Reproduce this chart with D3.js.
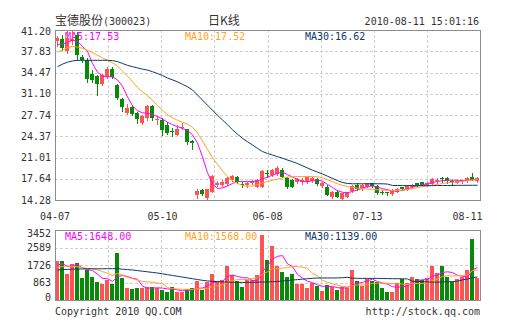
<!DOCTYPE html>
<html><head><meta charset="utf-8">
<script src="https://cdn.jsdelivr.net/npm/d3@7"></script>
<style>
html,body{margin:0;padding:0;background:#fff;}
svg{display:block;}
text{font-family:"DejaVu Sans Mono",monospace;font-size:10px;fill:#333;}
.cjk{font-family:"Noto Sans CJK SC",sans-serif;font-size:12px;}
</style></head><body>
<svg id="c" width="505" height="330"></svg>
<script>
const stockName = "宝德股份", stockCode = "(300023)", chartTitle = "日K线", timestamp = "2010-08-11 15:01:16";
const copyright = "Copyright 2010 QQ.COM", siteUrl = "http://stock.qq.com";

const open = [39.45,39.8,37.8,39.5,40.4,37.0,36.4,34.3,33.9,32.65,33.8,35.0,32.5,30.2,28.0,29.0,28.0,26.5,27.2,29.2,
26.95,27.0,26.2,25.15,24.6,25.7,25.5,23.7,15.1,15.9,14.55,15.6,16.7,16.7,16.8,17.45,17.9,16.8,16.65,17.0,
16.4,16.4,18.6,18.25,18.4,19.1,17.7,17.4,17.1,17.2,17.2,17.3,17.55,16.55,16.4,14.75,15.6,14.45,14.8,15.75,
16.66,16.0,16.4,16.9,16.5,15.55,15.5,15.2,15.6,16.3,15.9,16.3,16.9,17.1,16.6,16.8,17.4,17.7,17.8,17.3,
17.0,17.3,17.3,17.9,17.3];
const high = [40.3,40.4,41.0,41.2,40.9,37.2,36.7,34.9,34.1,34.3,35.4,35.4,32.6,30.4,29.5,29.3,28.2,27.8,29.3,29.4,
27.6,27.2,26.7,25.64,26.2,26.4,25.6,23.8,16.0,16.1,16.1,18.2,17.3,17.4,17.9,18.3,18.1,17.2,17.1,17.4,
17.6,19.0,19.0,19.2,19.6,19.3,17.9,17.6,17.7,17.7,18.0,17.9,17.7,17.2,16.6,15.7,15.8,15.45,15.6,16.6,
16.9,16.8,17.0,17.0,16.6,15.8,15.6,16.0,16.2,16.4,16.6,16.8,17.0,17.1,17.1,17.7,17.8,18.0,17.9,17.4,
17.5,17.5,17.9,18.5,17.9];
const low = [38.7,38.0,37.6,39.0,36.45,36.1,33.0,33.0,30.9,32.5,33.6,33.6,30.3,28.3,27.9,27.7,26.4,26.3,27.0,27.0,
26.3,24.6,24.7,24.41,24.5,25.5,23.2,22.3,14.55,15.0,14.28,15.5,16.5,16.5,16.7,17.3,17.0,16.3,16.4,16.8,
16.3,16.3,18.0,18.1,18.2,17.9,16.2,16.3,16.9,16.8,17.0,17.1,16.7,16.4,15.0,14.6,14.7,14.3,14.7,15.6,
15.9,15.9,16.3,16.4,15.3,15.2,15.0,15.1,15.5,15.8,15.8,16.2,16.5,16.6,16.5,16.7,17.0,17.2,17.0,16.7,
16.9,17.0,17.2,17.4,17.2];
const close = [39.9,38.3,39.9,39.8,37.2,36.4,33.5,33.3,32.6,34.1,35.0,33.8,30.4,29.0,28.8,27.9,27.1,27.6,29.2,27.3,
27.05,25.4,24.9,25.05,25.6,25.9,23.4,23.3,15.75,15.2,15.95,18.1,17.0,17.2,17.7,18.1,17.2,16.65,17.0,17.2,
17.45,18.8,18.45,19.0,19.3,18.0,16.3,16.4,17.55,17.5,17.85,17.7,16.8,17.0,15.1,15.6,14.8,15.35,15.5,16.5,
16.0,16.66,16.9,16.55,15.45,15.45,15.4,15.8,16.1,15.95,16.5,16.7,16.6,16.7,17.0,17.6,17.5,17.6,17.3,17.2,
17.3,17.4,17.8,17.5,17.7];
const volume = [1900,1900,1300,1780,1840,1090,1460,1120,870,800,1000,800,2320,1090,590,540,590,590,620,620,
590,510,380,620,380,390,540,590,950,510,870,1300,950,1000,1690,1220,950,620,1000,1000,
1220,3190,1990,2680,1690,1400,1150,1280,790,790,610,820,710,460,740,625,490,625,575,1480,
950,710,1040,950,900,610,410,410,820,1020,820,1150,1020,990,1070,1690,1350,1690,1150,900,
1030,1150,1470,3000,1100];

const ma5 = [38.9,39.0,39.2,39.6,39.4,38.6,37.8,35.9,34.5,33.9,33.8,33.8,33.3,32.3,30.6,29.2,28.4,28.1,28.0,27.8,
27.5,27.1,26.6,26.2,25.9,25.6,25.3,24.6,23.3,21.1,18.6,16.8,16.1,16.2,16.5,16.9,17.2,17.2,17.2,17.2,
17.3,17.6,17.9,18.2,18.5,18.7,18.3,17.9,17.55,17.2,17.15,17.35,17.45,17.25,16.75,16.25,15.75,15.5,15.4,15.65,
15.85,16.15,16.4,16.5,16.3,16.1,15.9,15.72,15.7,15.8,16.0,16.3,16.55,16.7,16.85,17.05,17.2,17.35,17.42,17.42,
17.4,17.38,17.4,17.45,17.53];
const ma10 = [37.7,38.0,38.4,38.6,38.5,38.3,38.0,37.6,37.2,36.8,36.4,36.0,35.5,34.7,33.9,33.0,32.1,31.4,30.8,30.1,
29.2,28.5,27.8,27.3,26.9,26.6,26.3,25.8,24.9,23.6,22.3,21.0,19.9,18.9,18.0,17.3,16.9,16.6,16.45,16.5,
16.7,17.0,17.2,17.4,17.6,17.75,17.9,17.95,18.0,18.0,18.0,18.0,17.95,17.8,17.5,17.15,16.85,16.6,16.4,16.25,
16.15,16.1,16.0,15.95,15.9,15.85,15.8,15.78,15.8,15.85,15.95,16.1,16.25,16.4,16.5,16.6,16.75,16.9,17.0,17.1,
17.15,17.25,17.35,17.45,17.52];
const ma30 = [35.4,35.8,36.1,36.3,36.4,36.4,36.4,36.4,36.4,36.4,36.4,36.35,36.2,35.9,35.6,35.4,35.2,35.0,34.85,34.6,
34.3,34.0,33.6,33.3,33.0,32.6,32.2,31.7,30.9,30.1,29.3,28.5,27.7,26.95,26.2,25.4,24.7,24.05,23.5,23.0,
22.45,21.95,21.65,21.4,21.15,20.9,20.6,20.35,20.05,19.7,19.35,19.0,18.7,18.4,18.05,17.7,17.35,17.05,16.9,16.85,
16.85,16.85,16.85,16.85,16.85,16.85,16.8,16.58,16.57,16.56,16.56,16.55,16.55,16.55,16.56,16.56,16.57,16.58,16.58,16.59,
16.6,16.6,16.61,16.61,16.62];

const volMa5 = [1710,1800,1650,1700,1744,1582,1494,1458,1276,1068,1050,918,1158,1202,1160,1068,1026,680,586,592,
602,586,544,544,496,456,462,504,570,596,692,844,916,926,1162,1232,1162,1096,1096,958,
958,1406,1680,2016,2154,2190,1782,1640,1262,1082,924,858,744,678,668,671,605,588,611,759,
824,868,951,1026,910,842,782,656,630,654,696,844,966,1000,1010,1184,1224,1358,1390,1356,
1218,1172,1124,1490,1600];
const volMa10 = [1610,1650,1680,1660,1640,1600,1560,1545,1480,1406,1316,1206,1308,1239,1114,1059,972,919,894,876,
835,806,612,565,544,529,524,524,557,546,574,653,710,748,879,962,1003,1006,1011,1060,
1095,1284,1388,1556,1556,1574,1594,1660,1639,1618,1557,1320,1192,970,875,798,732,666,645,714,
748,737,770,819,835,833,825,804,828,782,769,813,811,815,832,940,1034,1162,1195,1183,
1201,1198,1241,1450,1480];
const volMa30 = [1480,1500,1510,1520,1530,1530,1540,1540,1540,1540,1545,1545,1545,1520,1500,1480,1450,1420,1390,1360,
1330,1290,1250,1210,1170,1130,1090,1050,1010,970,940,920,900,890,880,875,870,865,870,875,
880,885,890,900,915,935,960,985,1005,1030,1050,1070,1085,1085,1085,1085,1090,1100,1118,1075,
1070,1065,1065,1065,1065,1060,1055,1050,1050,1045,1040,925,920,905,890,880,880,890,900,910,
930,990,1040,1090,1139];

const priceTicks = [14.28,17.64,21.01,24.37,27.74,31.10,34.47,37.83,41.20];
const volTicks = [0,863,1726,2589,3452];
const dateLabels = ["04-07","05-10","06-08","07-13","08-11"];
const dateLabelIdx = [0,21,42,62,82];
const priceLegend = [["MA5",17.53],["MA10",17.52],["MA30",16.62]];
const volLegend = [["MA5",1648.00],["MA10",1568.00],["MA30",1139.00]];

// ---- layout ----
const L = 55, R = 480, PT = 30, PB = 200, VT = 230, VB = 300;
const UP = "#ff5252", DOWN = "#078a07";
const maColors = ["#ff00ff", "#ffa21f", "#0f3766"];
const legendX = [65, 185, 305];

const svg = d3.select("#c");
const N = close.length;
const x = d3.scaleBand().domain(d3.range(N)).range([L, R]);
const yP = d3.scaleLinear().domain([priceTicks[0], priceTicks[priceTicks.length-1]]).range([PB, PT]);
const yV = d3.scaleLinear().domain([volTicks[0], volTicks[volTicks.length-1]]).range([VB, VT]);
const cx = i => x(i) + 2.5;

// grid
const vGrid = d3.range(1, 8).map(k => L + (R - L) * k / 8);
function grid(yScale, ticks, top, bottom) {
  const g = svg.append("g").attr("stroke", "#d0d0d0").attr("stroke-dasharray", "3,2").attr("shape-rendering","crispEdges");
  ticks.slice(1, -1).forEach(t => {
    const yy = Math.round(yScale(t)) + 0.5;
    g.append("line").attr("x1", L).attr("x2", R).attr("y1", yy).attr("y2", yy);
  });
  vGrid.forEach(v => {
    const xx = Math.round(v) + 0.5;
    g.append("line").attr("x1", xx).attr("x2", xx).attr("y1", top).attr("y2", bottom);
  });
}
grid(yP, priceTicks, PT, PB);
grid(yV, volTicks, VT, VB);

// legends (under marks)
priceLegend.forEach((d, k) => {
  svg.append("text").attr("x", legendX[k]).attr("y", 40).style("fill", maColors[k])
    .text(d[0] + ":" + d[1].toFixed(2));
});
volLegend.forEach((d, k) => {
  svg.append("text").attr("x", legendX[k]).attr("y", 240).style("fill", maColors[k])
    .text(d[0] + ":" + d[1].toFixed(2));
});

// clip paths
svg.append("clipPath").attr("id","cp").append("rect").attr("x",L).attr("y",PT).attr("width",R-L).attr("height",PB-PT);
svg.append("clipPath").attr("id","cv").append("rect").attr("x",L).attr("y",VT).attr("width",R-L).attr("height",VB-VT);

// candles
const cg = svg.append("g").attr("clip-path","url(#cp)");
d3.range(N).forEach(i => {
  const col = close[i] >= open[i] ? UP : DOWN;
  cg.append("line").attr("x1", cx(i)).attr("x2", cx(i))
    .attr("y1", Math.round(yP(high[i]))).attr("y2", Math.round(yP(low[i])) + 1)
    .attr("stroke", col).attr("stroke-width", 1);
  const y1 = Math.round(yP(Math.max(open[i], close[i])));
  const y2 = Math.round(yP(Math.min(open[i], close[i])));
  cg.append("rect").attr("x", x(i)).attr("width", x.bandwidth() - 1)
    .attr("y", y1).attr("height", Math.max(1, y2 - y1)).attr("fill", col);
});

// price MAs
const line = (ys) => d3.line().x((d, i) => cx(i)).y(d => ys(d));
[ma5, ma10, ma30].forEach((arr, k) => {
  cg.append("path").datum(arr).attr("d", line(yP)).attr("fill","none")
    .attr("stroke", maColors[k]).attr("stroke-width", 1);
});

// volume bars
const vg = svg.append("g").attr("clip-path","url(#cv)");
d3.range(N).forEach(i => {
  const col = close[i] >= open[i] ? UP : DOWN;
  const yy = Math.round(yV(volume[i]));
  vg.append("rect").attr("x", x(i)).attr("width", x.bandwidth() - 1)
    .attr("y", yy).attr("height", VB - yy).attr("fill", col);
});
[volMa5, volMa10, volMa30].forEach((arr, k) => {
  vg.append("path").datum(arr).attr("d", line(yV)).attr("fill","none")
    .attr("stroke", maColors[k]).attr("stroke-width", 1);
});

// frames
[[PT, PB], [VT, VB]].forEach(([t, b]) => {
  svg.append("rect").attr("x", L + 0.5).attr("y", t + 0.5).attr("width", R - L).attr("height", b - t)
    .attr("fill","none").attr("stroke","#8c8c8c").attr("stroke-width",1);
});

// y labels
priceTicks.forEach((t, k) => {
  let yy = yP(t) + 3.5;
  if (k === priceTicks.length - 1) yy += 1.5;
  svg.append("text").attr("x", 51).attr("y", yy).attr("text-anchor","end").text(t.toFixed(2));
});
volTicks.forEach((t, k) => {
  let yy = yV(t) + 3.5;
  if (k === volTicks.length - 1) yy += 3;
  if (k === 0) yy -= 3;
  svg.append("text").attr("x", 51).attr("y", yy).attr("text-anchor","end").text(String(t));
});

// date labels
dateLabels.forEach((s, k) => {
  let xx = cx(dateLabelIdx[k]);
  if (k === 0) xx = L;
  svg.append("text").attr("x", xx).attr("y", 220).attr("text-anchor","middle").text(s);
});

// header
const head = svg.append("text").attr("x", L).attr("y", 25);
head.append("tspan").attr("class","cjk").text(stockName);
head.append("tspan").text(stockCode);
svg.append("text").attr("class","cjk").attr("x", 224).attr("y", 25).attr("text-anchor","middle").text(chartTitle);
svg.append("text").attr("x", R - 1).attr("y", 25).attr("text-anchor","end").text(timestamp);

// footer
svg.append("text").attr("x", L).attr("y", 315).text(copyright);
svg.append("text").attr("x", R).attr("y", 315).attr("text-anchor","end").text(siteUrl);
</script>
</body></html>
